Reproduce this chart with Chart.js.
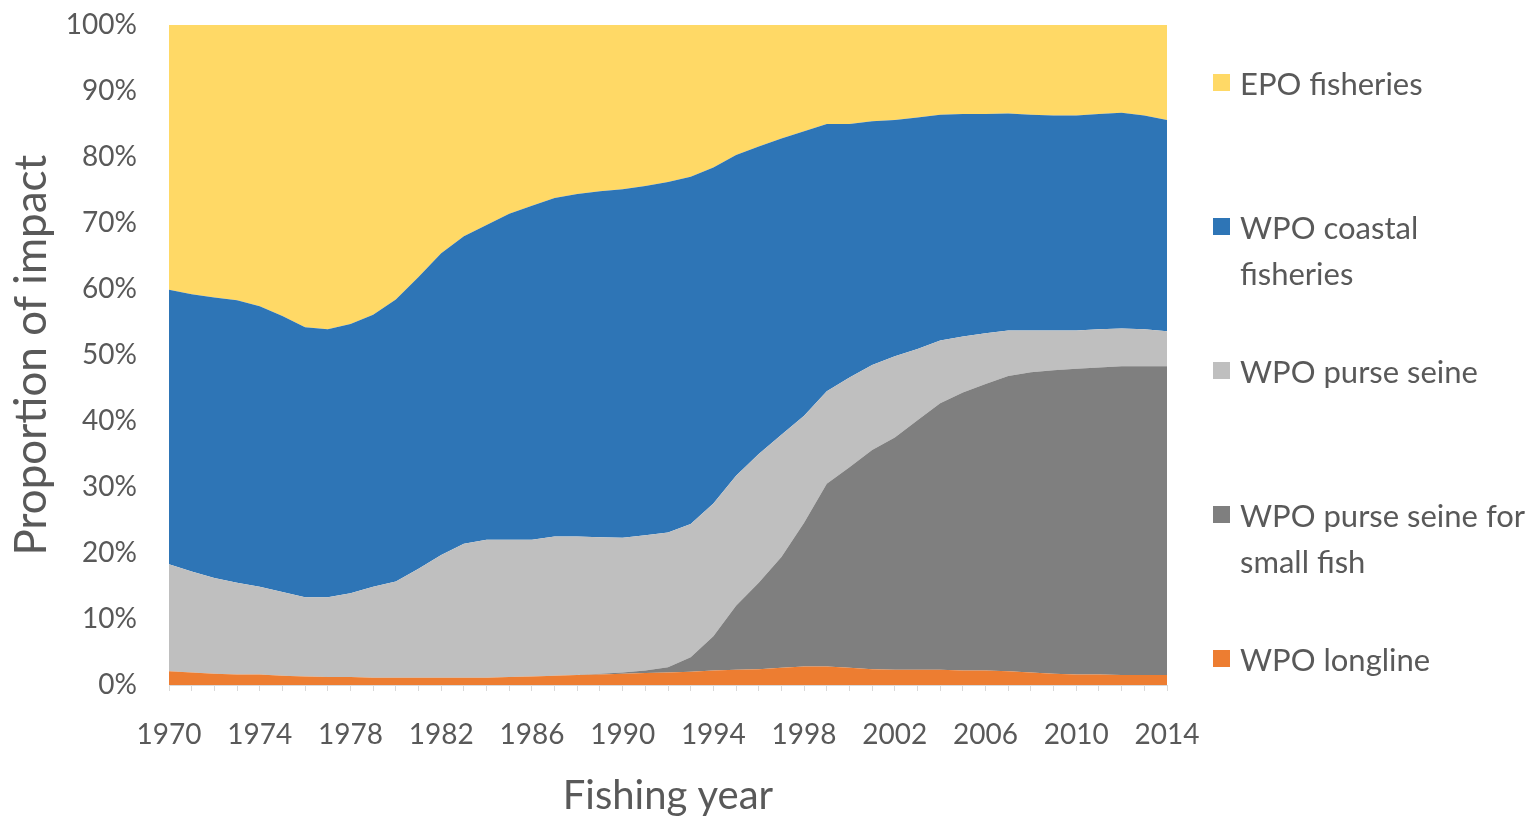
<!DOCTYPE html>
<html><head><meta charset="utf-8">
<script src="https://cdn.jsdelivr.net/npm/chart.js@4.4.0/dist/chart.umd.min.js"></script>
<style>
html,body{margin:0;padding:0;background:#fff;}
#wrap{position:relative;width:1538px;height:820px;}
#legend{position:absolute;left:1213px;top:0;font-family:Lato, sans-serif;font-size:31px;color:#595959;}
.item{position:absolute;left:0;display:flex;align-items:flex-start;width:325px;}
.sw{width:17px;height:17px;flex:none;margin-right:10px;margin-top:14px;}
.txt{line-height:46px;white-space:pre-line;}
</style></head>
<body><div id="wrap"><canvas id="c" width="1538" height="820"></canvas><div id="legend"></div></div>
<script>
const years = [];
for (let y = 1970; y <= 2014; y++) years.push(y);

const longline = [2.1,1.9,1.7,1.6,1.6,1.4,1.3,1.2,1.2,1.1,1.1,1.1,1.1,1.1,1.1,1.2,1.3,1.4,1.5,1.6,1.7,1.8,1.9,2.0,2.2,2.3,2.4,2.6,2.8,2.8,2.6,2.4,2.3,2.3,2.3,2.2,2.2,2.1,1.9,1.7,1.6,1.6,1.5,1.5,1.5];
const smallFish = [0,0,0,0,0,0,0,0,0,0,0,0,0,0,0,0,0,0,0,0.1,0.2,0.4,0.8,2.2,5.2,9.7,13.1,16.8,21.8,27.7,30.4,33.2,35.2,37.8,40.4,42.1,43.4,44.7,45.5,46.0,46.3,46.5,46.8,46.8,46.8];
const purseSeine = [16.2,15.3,14.5,13.9,13.3,12.7,12.0,12.1,12.7,13.8,14.6,16.5,18.6,20.3,20.9,20.8,20.7,21.1,21.0,20.7,20.4,20.5,20.4,20.2,20.1,19.7,19.5,18.5,16.2,14.0,13.6,12.9,12.3,10.8,9.5,8.5,7.7,6.9,6.3,6.0,5.8,5.8,5.7,5.6,5.3];
const coastal = [41.6,42.0,42.5,42.8,42.5,41.8,40.9,40.6,40.8,41.2,42.7,44.2,45.7,46.6,47.7,49.4,50.6,51.3,51.9,52.4,52.8,52.9,53.1,52.6,50.9,48.6,46.6,44.9,43.1,40.5,38.4,36.9,35.8,35.1,34.2,33.7,33.2,32.9,32.7,32.6,32.6,32.6,32.7,32.4,32.0];
const epo = [40.1,40.8,41.3,41.7,42.6,44.1,45.8,46.1,45.3,43.9,41.6,38.2,34.6,32.0,30.3,28.6,27.4,26.2,25.6,25.2,24.9,24.4,23.8,23.0,21.6,19.7,18.4,17.2,16.1,15.0,15.0,14.6,14.4,14.0,13.6,13.5,13.5,13.4,13.6,13.7,13.7,13.5,13.3,13.7,14.4];

const seriesNames = ['WPO longline','WPO purse seine for\nsmall fish','WPO purse seine','WPO coastal\nfisheries','EPO fisheries'];
const seriesColors = ['#ED7D31','#7F7F7F','#BFBFBF','#2E75B6','#FFD966'];
const seriesData = [longline, smallFish, purseSeine, coastal, epo];
const yTicks = [0,10,20,30,40,50,60,70,80,90,100];

const datasets = seriesData.map((d, i) => ({
  label: seriesNames[i],
  data: d,
  backgroundColor: seriesColors[i],
  borderColor: seriesColors[i],
  borderWidth: 0,
  pointRadius: 0,
  fill: i === 0 ? 'origin' : '-1',
  tension: 0
}));

const txt = '#595959';
const chart = new Chart(document.getElementById('c').getContext('2d'), {
  type: 'line',
  data: { labels: years, datasets },
  options: {
    responsive: false,
    animation: false,
    layout: { padding: { left: 0, right: 371, top: 25, bottom: 0 } },
    plugins: { legend: { display: false }, tooltip: { enabled: false } },
    scales: {
      x: {
        offset: false,
        grid: { drawOnChartArea: false, color: '#d9d9d9', tickLength: 6 },
        border: { color: '#d9d9d9' },
        ticks: {
          autoSkip: false, maxRotation: 0, minRotation: 0, padding: 27, color: txt,
          font: { family: 'Lato', size: 28 },
          callback: function (v, i) { return (years[i] - 1970) % 4 === 0 ? String(years[i]) : ''; }
        },
        title: { display: true, text: 'Fishing year', color: txt, font: { family: 'Lato', size: 40 }, padding: { top: 0, bottom: 0 } },
        afterFit: s => { s.height = 135; }
      },
      y: {
        stacked: true, min: 0, max: 100,
        afterBuildTicks: s => { s.ticks = yTicks.map(v => ({ value: v })); },
        grid: { display: true, drawOnChartArea: false, drawTicks: true, tickLength: 32, color: 'rgba(0,0,0,0)' },
        border: { display: false },
        ticks: { padding: 0, color: txt, font: { family: 'Lato', size: 28 }, callback: v => v + '%' },
        title: { display: true, text: 'Proportion of impact', color: txt, font: { family: 'Lato', size: 44 }, padding: { top: 5, bottom: 0 } },
        afterFit: s => { s.width = 169; }
      }
    }
  }
});

// HTML legend built from datasets (top-down order)
const legend = document.getElementById('legend');
const tops = [60, 204, 348, 492, 636];
datasets.slice().reverse().forEach((ds, k) => {
  const it = document.createElement('div');
  it.className = 'item';
  it.style.top = tops[k] + 'px';
  const sw = document.createElement('div');
  sw.className = 'sw';
  sw.style.background = ds.backgroundColor;
  const t = document.createElement('div');
  t.className = 'txt';
  t.textContent = ds.label;
  it.appendChild(sw); it.appendChild(t);
  legend.appendChild(it);
});
</script>
</body></html>
